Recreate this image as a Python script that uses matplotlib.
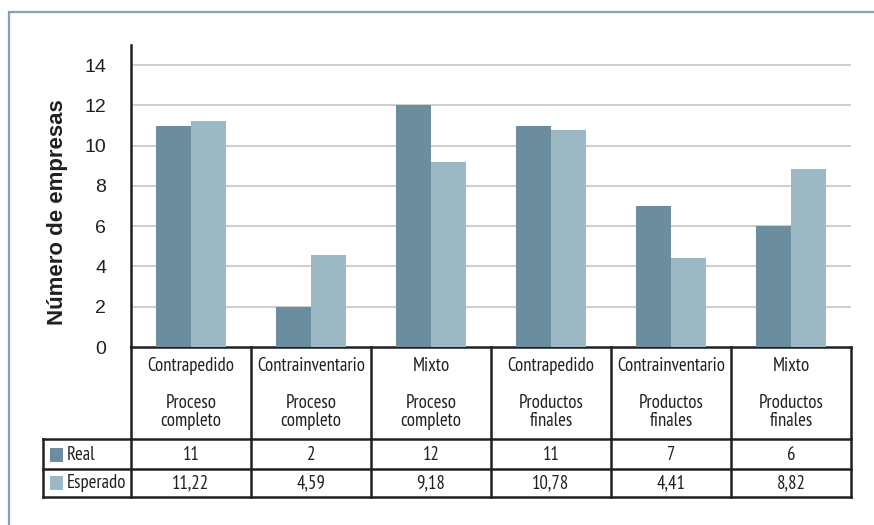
import matplotlib
matplotlib.use("Agg")
import matplotlib.pyplot as plt
from matplotlib.patches import Rectangle
from matplotlib.transforms import blended_transform_factory

# Data
sistemas = ["Contrapedido", "Contrainventario", "Mixto",
            "Contrapedido", "Contrainventario", "Mixto"]
etapas = ["Proceso\ncompleto", "Proceso\ncompleto", "Proceso\ncompleto",
          "Productos\nfinales", "Productos\nfinales", "Productos\nfinales"]
real = [11, 2, 12, 11, 7, 6]
esperado = [11.22, 4.59, 9.18, 10.78, 4.41, 8.82]
series_names = ["Real", "Esperado"]
y_ticks = [0, 2, 4, 6, 8, 10, 12, 14]

c_real = "#6b8e9f"
c_esp = "#9db8c5"
line_c = "#231f20"

W, H = 874, 525
fig = plt.figure(figsize=(W / 100, H / 100), dpi=100)

# axes placement in pixels
ax_l, ax_r, ax_t, ax_b = 131, 851, 45, 347
ax = fig.add_axes([ax_l / W, 1 - ax_b / H, (ax_r - ax_l) / W, (ax_b - ax_t) / H])
ax_h = ax_b - ax_t

narrow = ["PT Sans Narrow", "Archivo Narrow", "DejaVu Sans"]
sans = ["Liberation Sans", "DejaVu Sans"]

# outer frame
fig.add_artist(Rectangle((8.5 / W, -0.1), 1.2, 1 - 12 / H + 0.1,
                         transform=fig.transFigure, fill=False,
                         edgecolor="#86a3b4", lw=1.6))

x = list(range(len(real)))
bw = 0.29
ax.bar([i - bw / 2 for i in x], real, width=bw, color=c_real, zorder=3)
ax.bar([i + bw / 2 for i in x], esperado, width=bw, color=c_esp, zorder=3)

ax.set_xlim(-0.5, len(real) - 0.5)
ax.set_ylim(0, 15)
ax.set_yticks(y_ticks)
ax.set_yticklabels([str(t) for t in y_ticks], family=sans, fontsize=14,
                   color="#231f20")
ax.tick_params(axis="y", length=0, pad=18)
ax.tick_params(axis="x", length=0, labelbottom=False)
for t in y_ticks[1:]:
    ax.axhline(t, color="#cfcfcf", lw=1.5, zorder=1)
for s in ["top", "right", "bottom"]:
    ax.spines[s].set_visible(False)
ax.spines["left"].set_linewidth(1.8)
ax.spines["left"].set_color(line_c)

ax.set_ylabel("Número de empresas", family=sans, fontweight="bold",
              fontsize=16, color="#231f20")
ax.yaxis.set_label_coords((68 - ax_l) / (ax_r - ax_l), (ax_b - 212) / ax_h)


# table below the axes
tr = blended_transform_factory(ax.transData, ax.transAxes)


def ay(ypix):
    return (ax_b - ypix) / ax_h


def dx(xpix):
    return (xpix - ax_l) / (ax_r - ax_l) * len(real) - 0.5


lw = 1.8
left_x = dx(43)
y_head, y_r, y_e, y_end = 347, 439, 469, 497

def hline(x0, x1, yp):
    ax.plot([x0, x1], [ay(yp), ay(yp)], color=line_c, lw=lw, transform=tr,
            clip_on=False, solid_capstyle="projecting")


def vline(xd, y0, y1):
    ax.plot([xd, xd], [ay(y0), ay(y1)], color=line_c, lw=lw, transform=tr,
            clip_on=False, solid_capstyle="projecting")


hline(-0.5, len(real) - 0.5, y_head)
for yp in (y_r, y_e, y_end):
    hline(left_x, len(real) - 0.5, yp)
vline(left_x, y_r, y_end)
for i in range(len(real) + 1):
    vline(i - 0.5, y_head, y_end)

fs = 13.5
for i in x:
    ax.text(i, ay(366), sistemas[i], transform=tr, ha="center", va="center",
            family=narrow, fontsize=fs, color="#231f20")
    ax.text(i, ay(412), etapas[i], transform=tr, ha="center", va="center",
            family=narrow, fontsize=fs, color="#231f20", linespacing=0.95)
    ax.text(i, ay(455), str(real[i]), transform=tr, ha="center", va="center",
            family=narrow, fontsize=fs, color="#231f20")
    ax.text(i, ay(483), f"{esperado[i]:.2f}".replace(".", ","), transform=tr,
            ha="center", va="center", family=narrow, fontsize=fs,
            color="#231f20")

# legend keys inside the table
for yc, name, col in ((455, series_names[0], c_real), (483, series_names[1], c_esp)):
    fig.add_artist(Rectangle((50 / W, 1 - (yc + 7) / H), 13 / W, 14 / H,
                             transform=fig.transFigure, facecolor=col,
                             edgecolor="none"))
    fig.text(67 / W, 1 - yc / H, name, ha="left", va="center",
             family=narrow, fontsize=fs, color="#231f20")

fig.savefig("out.png", dpi=100)
